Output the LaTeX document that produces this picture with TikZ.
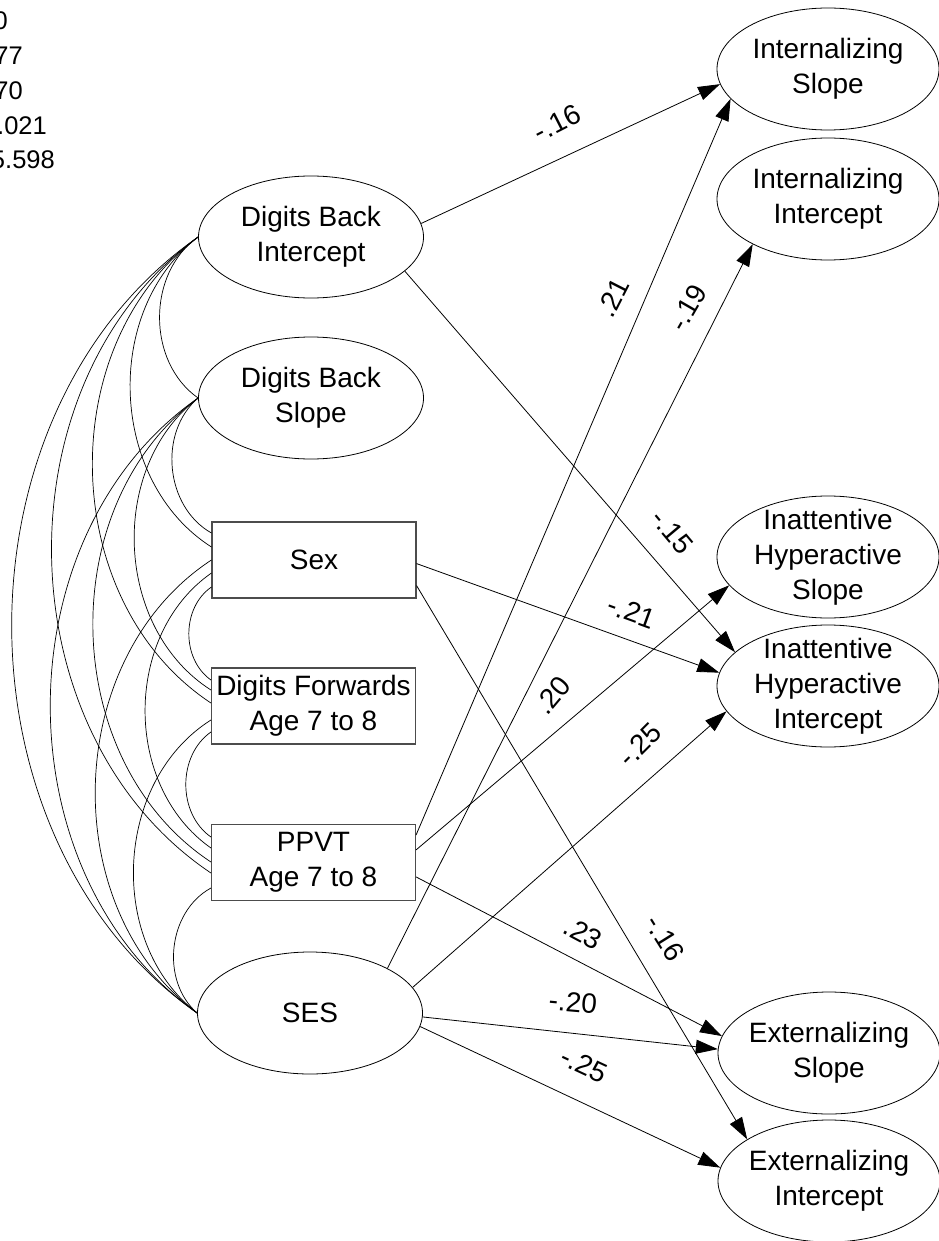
\documentclass[tikz,border=0pt]{standalone}
\usepackage{fontspec}
\setmainfont{Liberation Sans}
\usetikzlibrary{shapes.geometric,arrows.meta}
\begin{document}
\begin{tikzpicture}[x=1pt,y=1pt,
  every node/.style={font=\fontsize{28pt}{35pt}\selectfont},
  lat/.style={ellipse,draw,line width=0.8pt,minimum width=225pt,minimum height=122pt,inner sep=0pt},
  obs/.style={rectangle,draw=black!70,line width=1.1pt,minimum width=204pt,minimum height=76pt,inner sep=0pt,align=center},
  txt/.style={align=center,inner sep=0pt},
  lbl/.style={inner sep=0pt},
  fitstat/.style={inner sep=0pt,anchor=base east,font=\fontsize{25.5pt}{35pt}\selectfont},
  arr/.style={line width=0.8pt,-{Triangle[length=22pt,width=14pt]}},
  cov/.style={line width=0.7pt},
]
\fill[white] (0,0) rectangle (938,-1241);
\useasboundingbox (0,0) rectangle (938,-1241);

% fit statistics (cut off at the left edge)
\node[fitstat] (f1) at (8,-30) {0};
\node[fitstat] (f2) at (23,-65) {77};
\node[fitstat] (f3) at (23,-100) {70};
\node[fitstat] (f4) at (47,-135) {.021};
\node[fitstat] (f5) at (55,-169) {5.598};

% exogenous
\node[lat] (dbi) at (311,-237) {};
\node[txt] (dbi-t) at (dbi) {Digits Back\\Intercept};
\node[lat] (dbs) at (311,-398) {};
\node[txt] (dbs-t) at (dbs) {Digits Back\\Slope};
\node[obs] (sex) at (314,-560) {Sex};
\node[obs] (df) at (313.5,-706) {Digits Forwards\\Age 7 to 8};
\node[obs] (ppvt) at (313.5,-862.5) {PPVT\\Age 7 to 8};
\node[lat] (ses) at (310,-1013) {};
\node[txt] (ses-t) at (ses) {SES};

% outcomes
\node[lat,minimum width=222pt] (ints) at (828,-69) {};
\node[txt] (ints-t) at (ints) {Internalizing\\Slope};
\node[lat,minimum width=222pt] (inti) at (828,-199) {};
\node[txt] (inti-t) at (inti) {Internalizing\\Intercept};
\node[lat,minimum width=222pt] (ins) at (828,-557) {};
\node[txt] (ins-t) at (ins) {Inattentive\\Hyperactive\\Slope};
\node[lat,minimum width=222pt] (ini) at (828,-686) {};
\node[txt] (ini-t) at (ini) {Inattentive\\Hyperactive\\Intercept};
\node[lat,minimum width=222pt] (exs) at (829,-1053) {};
\node[txt] (exs-t) at (exs) {Externalizing\\Slope};
\node[lat,minimum width=222pt] (exi) at (829,-1181) {};
\node[txt] (exi-t) at (exi) {Externalizing\\Intercept};

% covariances
\draw[cov] (dbi.west) to[bend right=55] (dbs.west);
\draw[cov] (dbi.west) to[bend right=55] ([yshift=13pt]sex.west);
\draw[cov] (dbi.west) to[bend right=55] ([yshift=3pt]df.west);
\draw[cov] (dbi.west) to[bend right=55] ([yshift=-10.5pt]ppvt.west);
\draw[cov] (dbi.west) to[bend right=55] (ses.west);
\draw[cov] (dbs.west) to[bend right=55] ([yshift=27pt]sex.west);
\draw[cov] (dbs.west) to[bend right=55] ([yshift=16pt]df.west);
\draw[cov] (dbs.west) to[bend right=55] ([yshift=0.5pt]ppvt.west);
\draw[cov] (dbs.west) to[bend right=55] (ses.west);
\draw[cov] ([yshift=-27pt]sex.west) to[bend right=55] ([yshift=26pt]df.west);
\draw[cov] ([yshift=-13pt]sex.west) to[bend right=55] ([yshift=14.5pt]ppvt.west);
\draw[cov] (sex.west) to[bend right=55] (ses.west);
\draw[cov] ([yshift=-26pt]df.west) to[bend right=55] ([yshift=25.5pt]ppvt.west);
\draw[cov] ([yshift=-14pt]df.west) to[bend right=55] (ses.west);
\draw[cov] ([yshift=-25.5pt]ppvt.west) to[bend right=55] (ses.west);

% regression paths
\draw[arr] (dbi.7.8) -- (ints.188.4);
\draw[arr] (dbi.-20) -- (ini.160.8);
\draw[arr] (sex.-2.8) -- (ini.173.3);
\draw[arr] (sex.-14.8) -- (exi.153.4);
\draw[arr] (ppvt.15.2) -- (ints.197.2);
\draw[arr] (ppvt.7) -- (ins.196.5);
\draw[arr] (ppvt.-8.7) -- (exs.171.4);
\draw[arr] (ses.30.3) -- (inti.211.2);
\draw[arr] (ses.14.8) -- (ini.194.8);
\draw[arr] (ses.-2) -- (exs.178.4);
\draw[arr] (ses.-7.8) -- (exi.173);

% path coefficients
\node[lbl,rotate=27] (c1) at (557,-123) {-.16};
\node[lbl,rotate=63] (c2) at (613,-298) {.21};
\node[lbl,rotate=60] (c3) at (688,-308) {-.19};
\node[lbl,rotate=-50] (c4) at (672,-532) {-.15};
\node[lbl,rotate=-20] (c5) at (632,-612) {-.21};
\node[lbl,rotate=50] (c6) at (553,-695) {.20};
\node[lbl,rotate=45] (c7) at (640,-745) {-.25};
\node[lbl,rotate=-28] (c8) at (583,-933) {.23};
\node[lbl,rotate=-58] (c9) at (665,-938) {-.16};
\node[lbl,rotate=-5] (c10) at (573,-1002) {-.20};
\node[lbl,rotate=-25] (c11) at (584,-1065) {-.25};
\end{tikzpicture}
\end{document}
